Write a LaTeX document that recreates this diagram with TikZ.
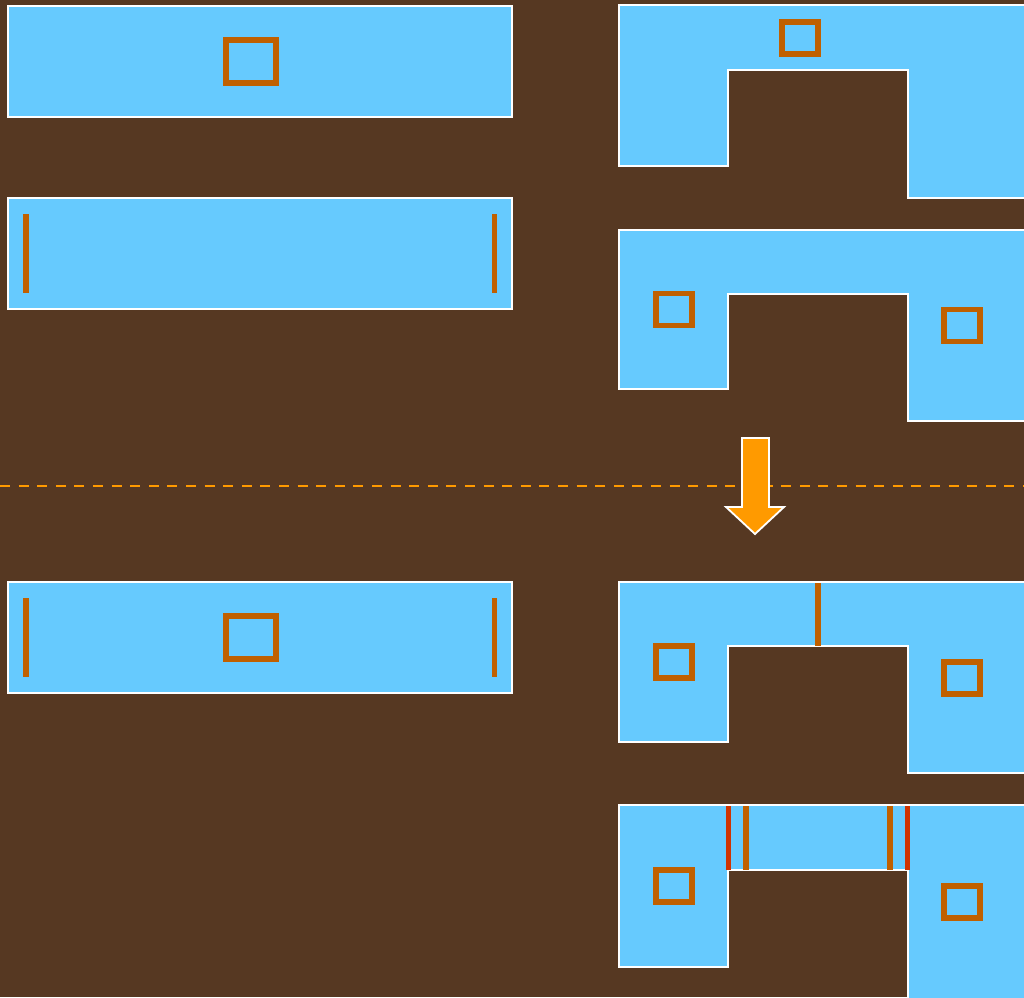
\documentclass[tikz,border=0pt]{standalone}
\definecolor{cStone}{HTML}{563822}
\definecolor{cSlab}{HTML}{66CAFE}
\definecolor{cMark}{HTML}{C06000}
\definecolor{cCut}{HTML}{D03300}
\definecolor{cFlow}{HTML}{FF9A00}
\usetikzlibrary{calc}

\begin{document}
\begin{tikzpicture}[x=0.5mm,y=-0.5mm,
      slab/.style={fill=cSlab,draw=white,line width=2.6pt,line join=miter},
      pad/.style={draw=cMark,line width=8pt},
      bigpad/.style={draw=cMark,line width=7.5pt},
      edge/.style={draw=cMark,line width=8.5pt},
      cut/.style={draw=cCut,line width=7pt},
      flow/.style={fill=cFlow,draw=white,line width=2.6pt,line join=miter}]
    % marble ground
    \fill[cStone] (0,0) rectangle (1024,997);
    \useasboundingbox (0,0) rectangle (1024,997);
    \clip (0,0) rectangle (1024,997);
    % straight slabs on the left
    \foreach \t in {6,198,582}
      \draw[slab] (8,\t) rectangle (512,{\t+111});
    \draw[bigpad] (226,40) rectangle (276,83);
    \draw[bigpad] (226,616) rectangle (276,659);
    \foreach \t in {214,598} {
      \draw[edge] (26,\t) -- (26,{\t+79});
      \draw[edge] (494.5,\t) -- (494.5,{\t+79});
    }
    % stepped slabs on the right
    \foreach \t/\n/\l/\r in {5/70/166/198, 230/294/389/421, 582/646/742/773, 805/870/967/1010}
      \draw[slab] (619,\t) -- (1034,\t) -- (1034,\r) -- (908,\r) -- (908,\n)
        -- (728,\n) -- (728,\l) -- (619,\l) -- cycle;
    \draw[pad] (782,22) rectangle (818,54);
    \foreach \x/\y in {674/309.5, 962/325.5, 674/662, 962/678, 674/886, 962/902}
      \draw[pad] ({\x-18},{\y-16}) rectangle ({\x+18},{\y+16});
    % joints
    \draw[edge] (818,583) -- (818,646);
    \foreach \x in {746,890}
      \draw[edge] (\x,806) -- (\x,870);
    \foreach \x in {728.5,907.5}
      \draw[cut] (\x,806) -- (\x,870);
    % split line and arrow
    \draw[cFlow,line width=4.2pt,dash pattern=on 5mm off 4.3mm] (0,486) -- (1024,486);
    \draw[flow] (742,438) -- (769,438) -- (769,507) -- (784,507) -- (755,534)
      -- (726,507) -- (742,507) -- cycle;
  \end{tikzpicture}
\end{document}
